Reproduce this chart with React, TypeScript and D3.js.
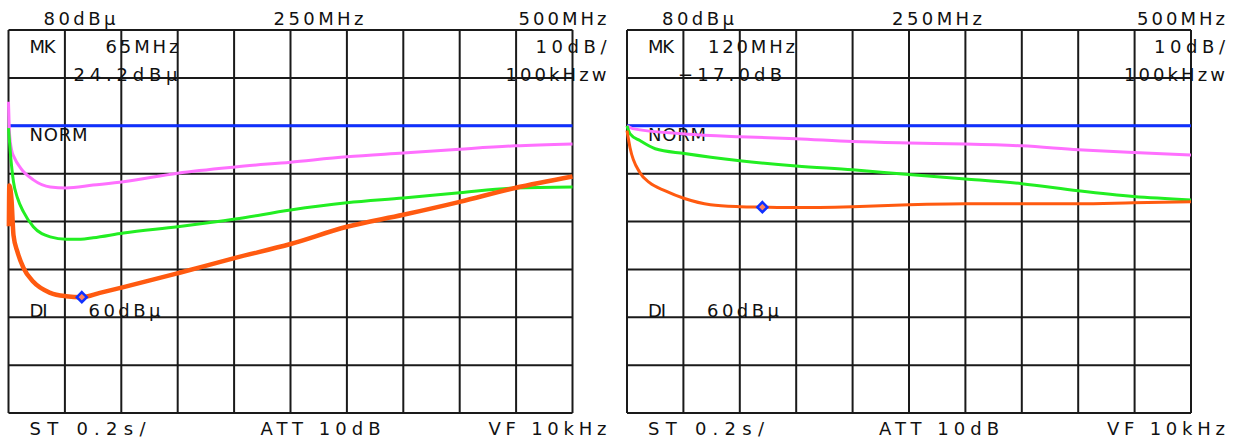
import React from "react";
import * as d3 from "d3";

// Frequency span (MHz) and reference level settings shared by both screens
const SPAN_START = 0;
const SPAN_END = 500;
const FREQ_GRID = [0, 50, 100, 150, 200, 250, 300, 350, 400, 450, 500];

// Left screen: absolute level in dBµ (ref 80 dBµ, 10 dB/div)
const LEFT_LEVEL_GRID = [0, 10, 20, 30, 40, 50, 60, 70, 80];
const LEFT_NORM = 60;
const leftMagentaF = [0, 1, 2.7, 5.3, 10.6, 22, 37, 51, 75, 102, 150, 201, 250, 300, 350, 400, 449, 500];
const leftMagentaV = [65, 58, 55, 53.3, 51.2, 48.7, 47.2, 47.0, 47.6, 48.3, 50.1, 51.4, 52.4, 53.5, 54.3, 55.1, 55.8, 56.2];
const leftGreenF = [0, 1.8, 4.4, 8, 13.3, 22, 37, 51, 64, 75, 102, 150, 201, 250, 300, 350, 400, 449, 500];
const leftGreenV = [59.5, 53.9, 48.3, 44.9, 42.0, 38.9, 36.8, 36.3, 36.3, 36.6, 37.6, 38.9, 40.5, 42.4, 43.9, 44.9, 46.0, 47.0, 47.2];
const leftOrangeF = [0, 0.8, 2.7, 4.4, 8, 13.3, 22, 37, 51, 65, 81, 102, 150, 201, 250, 300, 350, 400, 449, 500];
const leftOrangeV = [39, 47.5, 44.5, 37.2, 33.6, 30.3, 27.4, 25.1, 24.4, 24.2, 25.1, 26.3, 29.2, 32.4, 35.3, 38.9, 41.4, 44.1, 47.0, 49.4];
const LEFT_MARKER_F = 65;
const LEFT_MARKER_V = 24.2;

// Right screen: normalized level in dB (0 dB at NORM line)
const RIGHT_LEVEL_GRID = [-60, -50, -40, -30, -20, -10, 0, 10, 20];
const RIGHT_NORM = 0;
const rightMagentaF = [0, 5, 51, 100, 150, 200, 250, 300, 350, 400, 449, 500];
const rightMagentaV = [0, -0.6, -1.7, -2.3, -2.7, -3.3, -3.6, -3.8, -4.2, -5.0, -5.6, -6.1];
const rightGreenF = [0, 2.7, 11.5, 25, 51, 100, 150, 200, 250, 300, 350, 400, 449, 500];
const rightGreenV = [0, -1.7, -3.1, -4.8, -5.8, -7.3, -8.4, -9.2, -10.2, -11.1, -12.1, -13.6, -14.8, -15.5];
const rightOrangeF = [0, 2.7, 11.5, 20, 34, 51, 74, 100, 120, 150, 200, 250, 300, 350, 400, 449, 500];
const rightOrangeV = [-1.0, -4.6, -9.8, -11.9, -13.6, -15.2, -16.5, -16.9, -17.0, -17.1, -16.9, -16.5, -16.3, -16.3, -16.3, -16.1, -15.9];
const RIGHT_MARKER_F = 120;
const RIGHT_MARKER_V = -17.0;

// Annotation texts
const leftTexts = {
  ref: "80dBµ",
  center: "250MHz",
  stop: "500MHz",
  mk: "MK",
  mkFreq: "65MHz",
  mkVal: "24.2dBµ",
  scale: "10dB/",
  rbw: "100kHzw",
  norm: "NORM",
  dl: "DI",
  dlVal: "60dBµ",
  sweep: "ST 0.2s/",
  att: "ATT 10dB",
  vf: "VF 10kHz",
};
const rightTexts = { ...leftTexts, mkFreq: "120MHz", mkVal: "−17.0dB" };

const COLORS = {
  grid: "#1a1a1a",
  norm: "#1030ff",
  magenta: "#ff70ff",
  green: "#22ee22",
  orange: "#ff5a10",
  marker: "#1030ff",
};

const TOP = 30;
const BOTTOM = 413;
const PANEL_W = 564;

type Series = { f: number[]; v: number[]; color: string; width: number };

function Label({ x, y, w, text }: { x: number; y: number; w: number; text: string }) {
  return (
    <text
      x={x}
      y={y}
      textLength={w}
      lengthAdjust="spacing"
      fontFamily="DejaVu Sans, Verdana, sans-serif"
      fontSize={18}
      fill="#111"
    >
      {text}
    </text>
  );
}

function Screen({
  left,
  levelDomain,
  levelGrid,
  norm,
  series,
  marker,
  texts,
  mkFreqX,
  mkFreqW,
  mkValX,
  mkValW,
  id,
}: {
  left: number;
  levelDomain: [number, number];
  levelGrid: number[];
  norm: number;
  series: Series[];
  marker: [number, number];
  texts: typeof leftTexts;
  mkFreqX: number;
  mkFreqW: number;
  mkValX: number;
  mkValW: number;
  id: string;
}) {
  const x = d3.scaleLinear().domain([SPAN_START, SPAN_END]).range([left, left + PANEL_W]);
  const y = d3.scaleLinear().domain(levelDomain).range([BOTTOM, TOP]);
  const line = d3
    .line<[number, number]>()
    .x((d) => x(d[0]))
    .y((d) => y(d[1]))
    .curve(d3.curveMonotoneX);

  const mx = x(marker[0]);
  const my = y(marker[1]);
  const r = 5;
  const o = left - 8;

  return (
    <g>
      <defs>
        <clipPath id={id}>
          <rect x={left - 2} y={TOP} width={PANEL_W + 4} height={BOTTOM - TOP} />
        </clipPath>
      </defs>
      {/* graticule */}
      {levelGrid.map((g) => (
        <line key={"h" + g} x1={left} x2={left + PANEL_W} y1={y(g)} y2={y(g)} stroke={COLORS.grid} strokeWidth={2} />
      ))}
      {FREQ_GRID.map((g) => (
        <line key={"v" + g} x1={x(g)} x2={x(g)} y1={TOP} y2={BOTTOM} stroke={COLORS.grid} strokeWidth={2} />
      ))}

      {/* screen annotations */}
      <Label x={43 + o} y={25} w={72} text={texts.ref} />
      <Label x={273 + o} y={25} w={90} text={texts.center} />
      <Label x={518 + o} y={25} w={88} text={texts.stop} />
      <Label x={29 + o} y={53} w={26} text={texts.mk} />
      <Label x={mkFreqX + o} y={53} w={mkFreqW} text={texts.mkFreq} />
      <Label x={mkValX + o} y={81} w={mkValW} text={texts.mkVal} />
      <Label x={535 + o} y={53} w={71} text={texts.scale} />
      <Label x={505 + o} y={81} w={101} text={texts.rbw} />
      <Label x={29 + o} y={141} w={58} text={texts.norm} />
      <Label x={29 + o} y={317} w={18} text={texts.dl} />
      <Label x={88 + o} y={317} w={72} text={texts.dlVal} />
      <Label x={29 + o} y={435} w={116} text={texts.sweep} />
      <Label x={260 + o} y={435} w={120} text={texts.att} />
      <Label x={488 + o} y={435} w={118} text={texts.vf} />

      {/* traces */}
      <g clipPath={`url(#${id})`}>
        <line x1={left} x2={left + PANEL_W} y1={y(norm)} y2={y(norm)} stroke={COLORS.norm} strokeWidth={3} />
        {series.map((s, i) => (
          <path
            key={i}
            d={line(s.f.map((f, j) => [f, s.v[j]] as [number, number])) || ""}
            fill="none"
            stroke={s.color}
            strokeWidth={s.width}
            strokeLinejoin="round"
          />
        ))}
      </g>

      {/* marker */}
      <path
        d={`M${mx},${my - r}L${mx + r},${my}L${mx},${my + r}L${mx - r},${my}Z`}
        fill="#ff8060"
        stroke={COLORS.marker}
        strokeWidth={2.5}
      />
    </g>
  );
}

export default function App() {
  const leftSeries: Series[] = [
    { f: leftMagentaF, v: leftMagentaV, color: COLORS.magenta, width: 3 },
    { f: leftGreenF, v: leftGreenV, color: COLORS.green, width: 3 },
    { f: leftOrangeF, v: leftOrangeV, color: COLORS.orange, width: 4.5 },
  ];
  const rightSeries: Series[] = [
    { f: rightMagentaF, v: rightMagentaV, color: COLORS.magenta, width: 3 },
    { f: rightGreenF, v: rightGreenV, color: COLORS.green, width: 3 },
    { f: rightOrangeF, v: rightOrangeV, color: COLORS.orange, width: 3 },
  ];
  return (
    <svg
      width={1235}
      height={441}
      style={{ position: "absolute", left: 0, top: 0, background: "#fff" }}
    >
      <rect width={1235} height={441} fill="#fff" />
      <Screen
        id="clipL"
        left={8.5}
        levelDomain={[0, 80]}
        levelGrid={LEFT_LEVEL_GRID}
        norm={LEFT_NORM}
        series={leftSeries}
        marker={[LEFT_MARKER_F, LEFT_MARKER_V]}
        texts={leftTexts}
        mkFreqX={105}
        mkFreqW={73}
        mkValX={73}
        mkValW={104}
      />
      <Screen
        id="clipR"
        left={627}
        levelDomain={[-60, 20]}
        levelGrid={RIGHT_LEVEL_GRID}
        norm={RIGHT_NORM}
        series={rightSeries}
        marker={[RIGHT_MARKER_F, RIGHT_MARKER_V]}
        texts={rightTexts}
        mkFreqX={89}
        mkFreqW={87}
        mkValX={59}
        mkValW={104}
      />
    </svg>
  );
}
